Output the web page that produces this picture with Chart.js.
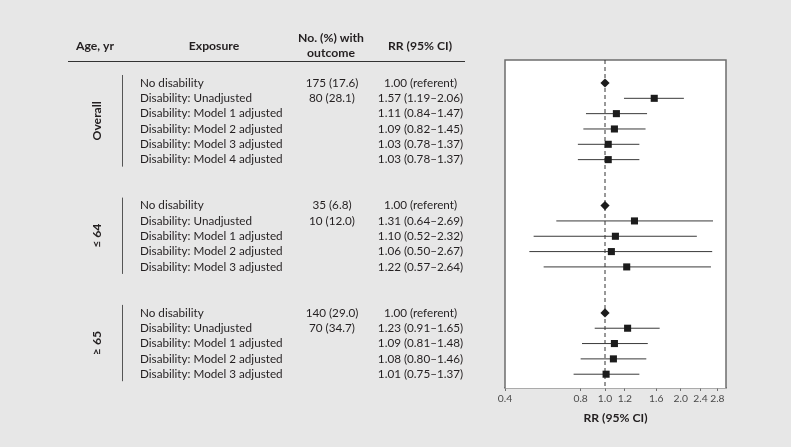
<!DOCTYPE html>
<html>
<head>
<meta charset="utf-8">
<script src="https://cdn.jsdelivr.net/npm/chart.js@4.4.1/dist/chart.umd.min.js"></script>
<style>
  html, body { margin: 0; padding: 0; background: #e7e7e7; }
  #wrap { width: 791px; height: 447px; position: relative; }
</style>
</head>
<body>
<div id="wrap"><canvas id="c"></canvas></div>
<script>
// ---------------- DATA ----------------
const groupLabels = ['Overall', '\u2264 64', '\u2265 65'];
const exposureLabels = [
  ['No disability', 'Disability: Unadjusted', 'Disability: Model 1 adjusted', 'Disability: Model 2 adjusted', 'Disability: Model 3 adjusted', 'Disability: Model 4 adjusted'],
  ['No disability', 'Disability: Unadjusted', 'Disability: Model 1 adjusted', 'Disability: Model 2 adjusted', 'Disability: Model 3 adjusted'],
  ['No disability', 'Disability: Unadjusted', 'Disability: Model 1 adjusted', 'Disability: Model 2 adjusted', 'Disability: Model 3 adjusted']
];
const outcomeLabels = [
  ['175 (17.6)', '80 (28.1)', '', '', '', ''],
  ['35 (6.8)', '10 (12.0)', '', '', ''],
  ['140 (29.0)', '70 (34.7)', '', '', '']
];
const rrValues = [
  [1.00, 1.57, 1.11, 1.09, 1.03, 1.03],
  [1.00, 1.31, 1.10, 1.06, 1.22],
  [1.00, 1.23, 1.09, 1.08, 1.01]
];
const ciLower = [
  [null, 1.19, 0.84, 0.82, 0.78, 0.78],
  [null, 0.64, 0.52, 0.50, 0.57],
  [null, 0.91, 0.81, 0.80, 0.75]
];
const ciUpper = [
  [null, 2.06, 1.47, 1.45, 1.37, 1.37],
  [null, 2.69, 2.32, 2.67, 2.64],
  [null, 1.65, 1.48, 1.46, 1.37]
];
const xTickValues = [0.4, 0.8, 1.0, 1.2, 1.6, 2.0, 2.4, 2.8];
const xAxisTitle = 'RR (95% CI)';
const headers = { age: 'Age, yr', exposure: 'Exposure', outcome: ['No. (%) with', 'outcome'], rr: 'RR (95% CI)' };

// ---------------- BUILD ----------------
const GAP_ROWS = 2;
const rows = [];
const groupsMeta = [];
let slot = 0;
groupLabels.forEach((g, gi) => {
  const start = slot;
  rrValues[gi].forEach((v, ri) => {
    rows.push({ group: gi, y: slot, rr: v, lo: ciLower[gi][ri], hi: ciUpper[gi][ri],
      exposure: exposureLabels[gi][ri], outcome: outcomeLabels[gi][ri] });
    slot++;
  });
  groupsMeta.push({ label: g, start: start, end: slot - 1 });
  slot += GAP_ROWS;
});
const lastSlot = slot - GAP_ROWS - 1;
const Y_MIN = -1.5, Y_MAX = lastSlot + 0.9;
const X_MIN = 0.4, X_MAX = 3.03;

function rrText(r) {
  if (r.lo == null) return r.rr.toFixed(2) + ' (referent)';
  return r.rr.toFixed(2) + ' (' + r.lo.toFixed(2) + '\u2013' + r.hi.toFixed(2) + ')';
}

const FONT = 'Lato, "Source Sans Pro", "Noto Sans", sans-serif';
const TEXT = '#231f20';

const datasets = [];
datasets.push({
  label: 'referent', type: 'scatter', order: 0,
  data: rows.filter(r => r.lo == null).map(r => ({ x: r.rr, y: r.y })),
  pointStyle: 'rectRot', pointRadius: 4.6, backgroundColor: '#1c1c1c', borderColor: '#1c1c1c', borderWidth: 0
});
datasets.push({
  label: 'estimate', type: 'scatter', order: 0,
  data: rows.filter(r => r.lo != null).map(r => ({ x: r.rr, y: r.y })),
  pointStyle: 'rect', pointRadius: 5, backgroundColor: '#1c1c1c', borderColor: '#1c1c1c', borderWidth: 0
});
rows.filter(r => r.lo != null).forEach(r => {
  datasets.push({
    label: 'ci', type: 'line', order: 1,
    data: [{ x: r.lo, y: r.y }, { x: r.hi, y: r.y }],
    borderColor: '#3a3a3a', borderWidth: 1, pointRadius: 0, fill: false
  });
});
datasets.push({
  label: 'null', type: 'line', order: 2,
  data: [{ x: 1, y: Y_MIN }, { x: 1, y: Y_MAX }],
  borderColor: '#333', borderWidth: 1, borderDash: [4, 3], pointRadius: 0, fill: false
});

const tablePlugin = {
  id: 'tablePlugin',
  beforeDatasetsDraw(chart) {
    const { ctx, chartArea: a } = chart;
    ctx.save();
    ctx.fillStyle = '#ffffff';
    ctx.fillRect(a.left, a.top, a.right - a.left, a.bottom - a.top);
    ctx.strokeStyle = '#6e6e6e';
    ctx.lineWidth = 1.5;
    ctx.beginPath();
    ctx.moveTo(a.left, a.bottom);
    ctx.lineTo(a.left, a.top);
    ctx.lineTo(a.right, a.top);
    ctx.lineTo(a.right, a.bottom);
    ctx.stroke();
    ctx.restore();
  },
  afterDraw(chart) {
    const { ctx } = chart;
    const ys = chart.scales.y;
    ctx.save();
    ctx.fillStyle = TEXT;
    ctx.textBaseline = 'middle';
    // headers
    ctx.font = 'bold 12.2px ' + FONT;
    ctx.textAlign = 'center';
    ctx.fillText(headers.age, 95, 46);
    ctx.fillText(headers.exposure, 214, 46);
    ctx.fillText(headers.outcome[0], 331, 38);
    ctx.fillText(headers.outcome[1], 331, 53);
    ctx.fillText(headers.rr, 420, 46);
    ctx.strokeStyle = '#333';
    ctx.lineWidth = 1;
    ctx.beginPath();
    ctx.moveTo(68, 61.5); ctx.lineTo(465, 61.5);
    ctx.stroke();
    // rows
    ctx.font = '11.7px ' + FONT;
    rows.forEach(r => {
      const y = ys.getPixelForValue(r.y);
      ctx.textAlign = 'left';
      ctx.fillText(r.exposure, 140, y);
      ctx.textAlign = 'center';
      if (r.outcome) ctx.fillText(r.outcome, 332, y);
      ctx.fillText(rrText(r), 420.5, y);
    });
    // group brackets and labels
    groupsMeta.forEach(g => {
      const y0 = ys.getPixelForValue(g.start) - 8;
      const y1 = ys.getPixelForValue(g.end) + 7;
      ctx.strokeStyle = '#555';
      ctx.lineWidth = 1;
      ctx.beginPath();
      ctx.moveTo(122.5, y0); ctx.lineTo(122.5, y1);
      ctx.stroke();
      ctx.save();
      ctx.translate(97.5, (y0 + y1) / 2);
      ctx.rotate(-Math.PI / 2);
      ctx.font = 'bold 12.2px ' + FONT;
      ctx.textAlign = 'center';
      ctx.fillStyle = TEXT;
      ctx.fillText(g.label, 0, 0);
      ctx.restore();
    });
    ctx.restore();
  }
};

new Chart(document.getElementById('c'), {
  type: 'scatter',
  data: { datasets },
  plugins: [tablePlugin],
  options: {
    responsive: true,
    maintainAspectRatio: false,
    animation: false,
    layout: { padding: { left: 505, right: 65, top: 60, bottom: 0 } },
    plugins: { legend: { display: false }, tooltip: { enabled: false } },
    scales: {
      x: {
        type: 'logarithmic', min: X_MIN, max: X_MAX,
        afterBuildTicks: s => { s.ticks = xTickValues.map(v => ({ value: v })); },
        afterFit: s => { s.height = 59; },
        ticks: {
          autoSkip: false, maxRotation: 0, padding: 1,
          color: '#4a4a4a', font: { family: FONT, size: 10.3 },
          callback: v => Number(v).toFixed(1)
        },
        grid: { display: true, drawOnChartArea: false, drawTicks: true, tickLength: 3, color: '#6e6e6e' },
        border: { display: true, color: '#6e6e6e', width: 1.5 },
        title: {
          display: true, text: xAxisTitle, color: TEXT,
          font: { family: FONT, size: 12.2, weight: 'bold' },
          padding: { top: 0, bottom: 22 }
        }
      },
      y: {
        type: 'linear', min: Y_MIN, max: Y_MAX, reverse: true, display: false
      }
    }
  }
});
</script>
</body>
</html>
